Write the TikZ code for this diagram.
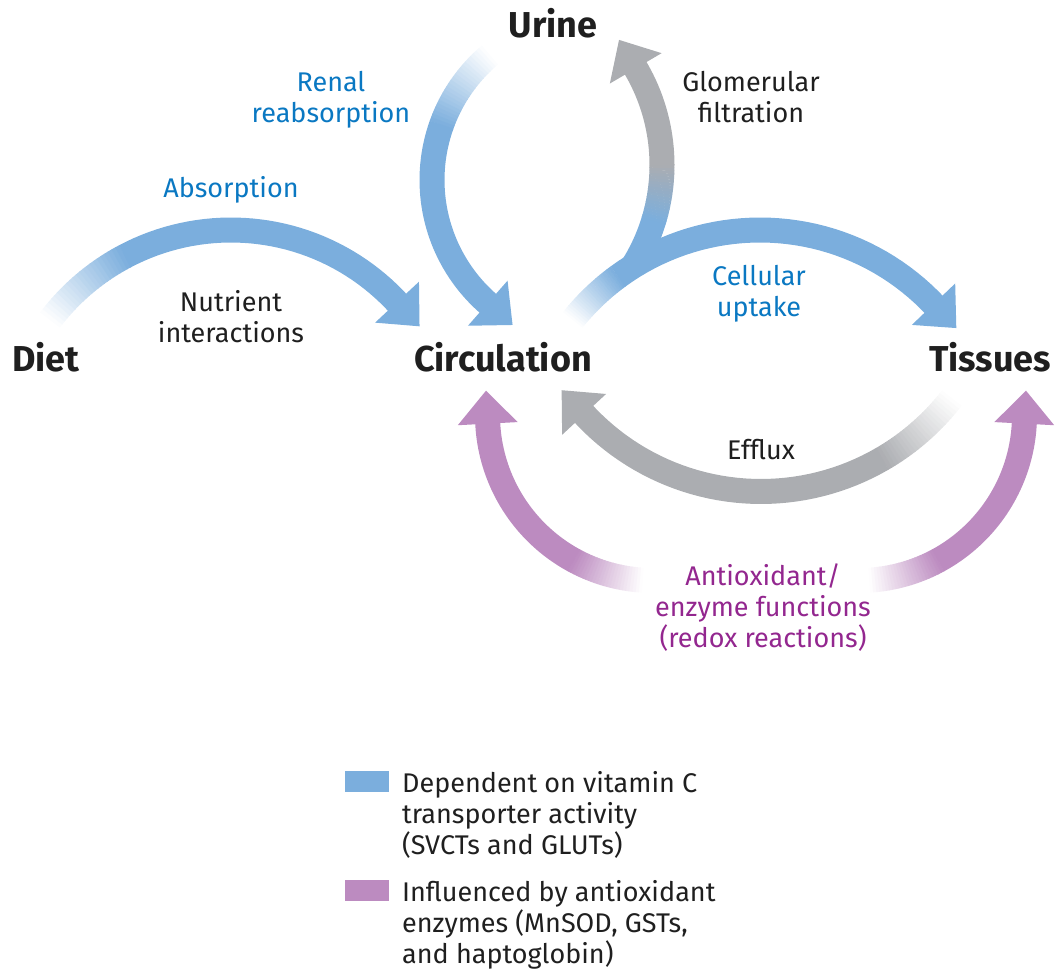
\documentclass[tikz,border=0pt]{standalone}
\usepackage{fontspec}
\setmainfont{Fira Sans}
\usepackage{tikz}
\usepackage{xcolor}
\definecolor{transcol}{HTML}{7BAEDD}
\definecolor{enzymecol}{HTML}{BC8BC0}
\definecolor{flowcol}{HTML}{ABADB1}
\definecolor{transtextcol}{HTML}{0A78C2}
\definecolor{enzymetextcol}{HTML}{93278F}
\colorlet{inkcol}{black!88}

\tikzset{
	band/.style={line width=25pt, line cap=butt},
	organ/.style={font=\fontsize{36}{40}\selectfont\bfseries, text=inkcol, anchor=base, inner sep=0pt},
	process/.style={font=\fontsize{27}{31}\selectfont, align=center, anchor=base, inner sep=0pt},
	legendtext/.style={font=\fontsize{27}{31}\selectfont, align=left, anchor=base west, inner sep=0pt, text=inkcol},
}

% arrow head: colour, centre x, centre y, radius, angle, direction sign
\newcommand{\vchead}[6]{%
	\pgfmathsetmacro{\hbx}{#2+#4*cos(#5)}
	\pgfmathsetmacro{\hby}{#3+#4*sin(#5)}
	\pgfmathsetmacro{\htx}{-#6*sin(#5)}
	\pgfmathsetmacro{\hty}{#6*cos(#5)}
	\pgfmathsetmacro{\hnx}{cos(#5)}
	\pgfmathsetmacro{\hny}{sin(#5)}
	\fill[#1] ({\hbx+30*\hnx}, {\hby+30*\hny}) -- ({\hbx+33*\htx}, {\hby+33*\hty}) -- ({\hbx-30*\hnx}, {\hby-30*\hny}) -- cycle;
}

% faded arc arrow: colour, centre x, centre y, radius, tail angle, head angle, fade span
\newcommand{\vcarrow}[7]{%
	\pgfmathsetmacro{\bandsign}{(#6>#5) ? 1 : -1}
	\pgfmathsetmacro{\fadeend}{#5+\bandsign*#7}
	\pgfmathsetmacro{\bandstop}{#6+\bandsign*1}
	\foreach \k in {0,...,23}{
		\pgfmathsetmacro{\angA}{#5+\bandsign*#7*\k/24}
		\pgfmathsetmacro{\angB}{#5+\bandsign*#7*(\k+1.15)/24}
		\pgfmathtruncatemacro{\fadepct}{100*(\k+0.5)/24}
		\draw[band, draw=#1!\fadepct!white] plot[domain=\angA:\angB, samples=3] ({#2+#4*cos(\x)}, {#3+#4*sin(\x)});
	}
	\draw[band, draw=#1] plot[domain=\fadeend:\bandstop, samples=40] ({#2+#4*cos(\x)}, {#3+#4*sin(\x)});
	\vchead{#1}{#2}{#3}{#4}{#6}{\bandsign}
}

\begin{document}
\begin{tikzpicture}[x=1pt, y=-1pt]
	\useasboundingbox (0,0) rectangle (1060,973);

	% glomerular filtration: leaves the uptake band blue, turns grey
	\draw[band, draw=transcol] plot[domain=31.6:16.5, samples=12] ({471+191*cos(\x)}, {165+191*sin(\x)});
	\foreach \k in {0,...,19}{
		\pgfmathsetmacro{\angA}{17-17*\k/20}
		\pgfmathsetmacro{\angB}{17-17*(\k+1.15)/20}
		\pgfmathtruncatemacro{\graypct}{100*(\k+0.5)/20}
		\draw[band, draw=flowcol!\graypct!transcol] plot[domain=\angA:\angB, samples=3] ({471+191*cos(\x)}, {165+191*sin(\x)});
	}
	\draw[band, draw=flowcol] plot[domain=0:-31.4, samples=20] ({471+191*cos(\x)}, {165+191*sin(\x)});
	\vchead{flowcol}{471}{165}{191}{-30.4}{-1}

	% transporter dependent fluxes
	\vcarrow{transcol}{231}{457}{227}{217.1}{317}{25}
	\vcarrow{transcol}{596}{180}{164}{229.7}{131.3}{30}
	\vcarrow{transcol}{760}{470}{240}{218.7}{316.3}{15}

	% efflux
	\vcarrow{flowcol}{761}{250}{241.5}{37.8}{137.1}{22}

	% antioxidant / enzyme arrows
	\vcarrow{enzymecol}{653}{415}{165.5}{93.5}{177}{25}
	\vcarrow{enzymecol}{859}{415}{165.5}{86.5}{3}{25}

	% compartments
	\node[organ] (diet) at (46,371) {Diet};
	\node[organ] (circ) at (503,371) {Circulation};
	\node[organ] (tissues) at (990,371) {Tissues};
	\node[organ] (urine) at (553,38) {Urine};

	% process labels (anchored at the last baseline)
	\node[process, text=transtextcol] (absorb) at (231,198) {Absorption};
	\node[process, text=inkcol] (nutrient) at (231,343) {Nutrient\\interactions};
	\node[process, text=transtextcol] (renal) at (331,123) {Renal\\reabsorption};
	\node[process, text=inkcol] (glom) at (751,123) {Glomerular\\filtration};
	\node[process, text=transtextcol] (uptake) at (759,317) {Cellular\\uptake};
	\node[process, text=inkcol] (efflux) at (761,459) {Efflux};
	\node[process, text=enzymetextcol] (redox) at (763,647) {Antioxidant/\\enzyme functions\\(redox reactions)};

	% legend
	\fill[transcol] (345,771) rectangle (389,792);
	\fill[enzymecol] (345,880) rectangle (389,901);
	\node[legendtext] (keytrans) at (402,854) {Dependent on vitamin C\\transporter activity\\(SVCTs and GLUTs)};
	\node[legendtext] (keyenz) at (402,963) {Influenced by antioxidant\\enzymes (MnSOD, GSTs,\\and haptoglobin)};
\end{tikzpicture}
\end{document}
